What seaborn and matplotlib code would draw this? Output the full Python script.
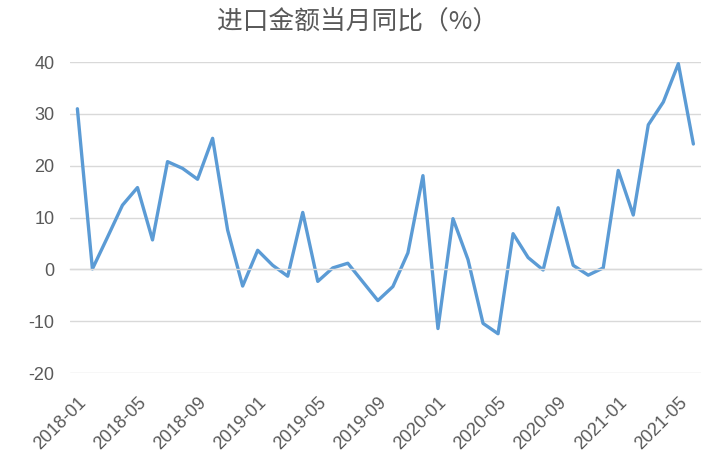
import matplotlib
matplotlib.use("Agg")
import matplotlib.pyplot as plt
import numpy as np
import pandas as pd
import seaborn as sns

# 进口金额当月同比 (%), monthly 2018-01 .. 2021-06
months = pd.period_range("2018-01", "2021-06", freq="M").strftime("%Y-%m").tolist()
yoy = [31.0, 0.1, 6.2, 12.4, 15.8, 5.7, 20.8, 19.5, 17.4, 25.3, 7.6, -3.2,
       3.7, 0.8, -1.3, 11.0, -2.3, 0.3, 1.2, -2.4, -6.0, -3.3, 3.2, 18.1,
       -11.4, 9.8, 1.9, -10.4, -12.4, 6.9, 2.3, -0.1, 11.9, 0.8, -1.1, 0.3,
       19.1, 10.5, 27.9, 32.3, 39.7, 24.2]
y_ticks = [-20, -10, 0, 10, 20, 30, 40]

df = pd.DataFrame({"month": months, "yoy": yoy})
df["idx"] = np.arange(len(df))

sns.set_style("white")
plt.rcParams["font.family"] = ["Noto Sans CJK SC", "DejaVu Sans"]

grey = "#595959"
tick_font = ["Liberation Sans", "DejaVu Sans"]
fig = plt.figure(figsize=(7.13, 4.67), dpi=100)
ax = fig.add_axes([0.098, 0.201, 0.885, 0.666])

sns.lineplot(data=df, x="idx", y="yoy", color="#5B9BD5", linewidth=2.4, ax=ax)

ax.set_ylim(-20, 40)
ax.set_xlim(-0.5, len(df) - 0.5)
ax.set_yticks(y_ticks)
ax.set_yticklabels([str(v) for v in y_ticks], color=grey, fontsize=13,
                   family=tick_font)
ax.tick_params(axis="y", length=0, pad=11)
ax.yaxis.grid(True, color="#D9D9D9", linewidth=1)
ax.set_axisbelow(True)

for s in ["top", "right", "left"]:
    ax.spines[s].set_visible(False)
ax.spines["bottom"].set_position(("data", 0))
ax.spines["bottom"].set_color("#D9D9D9")
ax.spines["bottom"].set_linewidth(1)

# tick marks between categories on the zero line
ax.set_xticks(np.arange(-0.5, len(df), 4))
ax.set_xticklabels([])
ax.tick_params(axis="x", direction="out", length=6.5, color="#D9D9D9", width=1)

# category labels at the bottom
sec = ax.secondary_xaxis("bottom")
pos = df["idx"][::4].tolist()
sec.set_xticks(pos)
sec.set_xticklabels(df["month"][::4].tolist(), rotation=45, ha="right",
                    rotation_mode="anchor", color=grey, fontsize=13,
                    family=tick_font)
sec.tick_params(length=0, pad=15)
sec.spines["bottom"].set_visible(False)

ax.set_xlabel("")
ax.set_ylabel("")
fig.text(0.502, 0.953, "进口金额当月同比（%）", ha="center", va="center",
         fontsize=18.5, color=grey)

fig.savefig("out.png", dpi=100)
